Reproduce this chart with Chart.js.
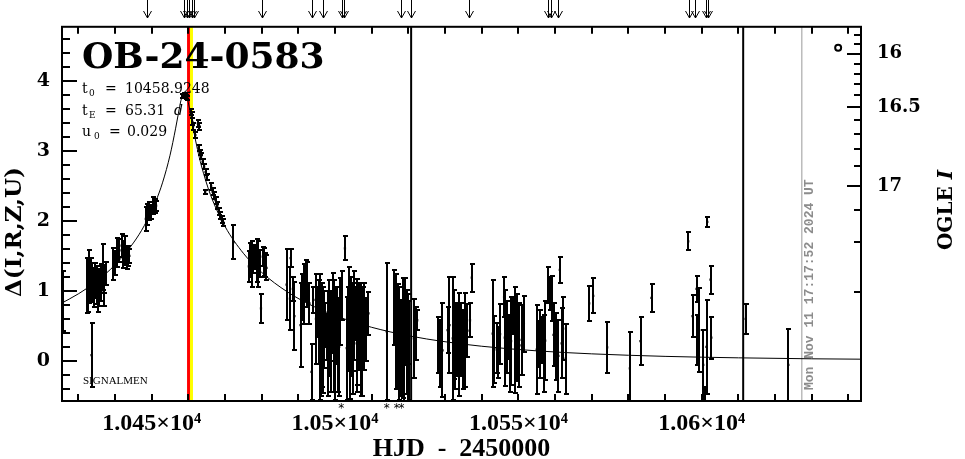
<!DOCTYPE html>
<html>
<head>
<meta charset="utf-8">
<script src="https://cdn.jsdelivr.net/npm/chart.js@4.4.1/dist/chart.umd.min.js"></script>
<style>
html,body{margin:0;padding:0;background:#ffffff;overflow:hidden;}
canvas{display:block;}
</style>
</head>
<body>
<canvas id="lc" width="965" height="459"></canvas>
<script>
// ---------------- data ----------------
// observation epochs (HJD-2450000)
const obsT = [
  10425.8, 10432.4, 10433.0, 10433.4, 10433.6, 10433.8, 10434.3, 10435.0, 10435.7, 10436.2, 10436.6, 10437.1, 10437.5,
  10439.5, 10440.0, 10440.6, 10441.2, 10441.8, 10442.3, 10442.7, 10443.2, 10443.6, 10443.9,
  10448.4, 10448.8, 10449.3, 10449.8, 10450.4, 10450.9, 10451.2,
  10458.4, 10458.7, 10459.0, 10459.3, 10459.7, 10460.6, 10460.9, 10461.1, 10461.3, 10461.9, 10462.6, 10462.8, 10463.0, 10463.2, 10463.5, 10463.9, 10464.3, 10464.6, 10464.7, 10465.0, 10466.2, 10466.6, 10467.0, 10467.4, 10467.9, 10468.3, 10468.7, 10469.1, 10469.5,
  10472.3,
  10476.5, 10476.8, 10477.3, 10477.7, 10478.2, 10478.6, 10478.9, 10479.1, 10479.5, 10479.8, 10480.3, 10480.6, 10480.9, 10481.3,
  10486.8, 10487.7, 10487.9, 10488.5, 10488.9, 10490.6, 10491.0, 10491.5, 10492.1, 10492.4, 10493.0, 10493.6, 10494.1, 10494.8, 10495.2, 10495.9, 10496.4, 10496.8, 10497.3, 10497.7, 10498.4, 10498.8, 10499.4, 10500.0, 10500.5, 10500.9, 10501.4, 10501.8, 10502.7, 10503.2, 10503.9, 10504.3, 10504.8, 10505.2, 10505.7, 10506.1, 10506.6, 10507.1, 10507.5, 10507.9, 10509.1,
  10514.1, 10516.2, 10516.6, 10517.1, 10517.5, 10518.0, 10518.4, 10519.1, 10519.5, 10520.1, 10521.5, 10522.0, 10522.4,
  10528.2, 10528.6, 10529.3, 10530.7, 10531.2, 10532.1, 10532.5, 10533.2, 10533.8, 10534.3, 10534.8, 10535.4, 10536.1, 10536.8, 10537.3,
  10543.0, 10543.4, 10544.1, 10544.5, 10545.0, 10546.1, 10546.3, 10547.0, 10547.5, 10548.0, 10548.6, 10549.2, 10549.7, 10550.3, 10550.9, 10551.5,
  10555.0, 10555.4, 10555.9, 10556.4, 10556.8, 10557.3, 10558.2, 10558.6, 10559.1, 10559.6, 10560.3, 10560.9, 10561.3, 10562.2, 10562.9,
  10569.3, 10570.4,
  10574.2, 10580.4, 10583.3, 10586.3, 10596.3, 10597.5, 10598.6, 10598.8, 10599.3, 10600.4, 10600.9, 10601.3, 10601.5, 10602.4, 10602.6, 10612.0, 10623.6,
  // denser parts of the forest
  10432.7, 10434.6, 10435.4, 10436.9,
  10495.5, 10496.1, 10497.0, 10498.1, 10499.0, 10499.7, 10500.2, 10501.1, 10503.5, 10504.0, 10505.0, 10505.9, 10506.9, 10507.3, 10508.4,
  10516.9, 10518.7, 10519.8, 10532.8, 10535.0, 10547.8, 10549.5, 10557.0, 10561.8
];
// magnification in magnitudes
const obsD = [
  0.86, 1.08, 1.20, 1.17, 0.08, 1.12, 1.05, 1.08, 1.05, 1.12, 1.34, 1.17, 1.25,
  1.38, 1.40, 1.55, 1.58, 1.65, 1.52, 1.58, 1.47, 1.50, 1.50,
  2.03, 2.09, 2.14, 2.13, 2.22, 2.22, 2.22,
  3.79, 3.81, 3.80, 3.78, 3.76, 3.56, 3.52, 3.42, 3.36, 3.23, 3.40, 3.05, 3.36, 2.98, 2.93, 2.85, 2.78, 2.42, 2.70, 2.63, 2.50, 2.42, 2.36, 2.30, 2.22, 2.14, 2.08, 2.02, 1.98,
  1.70,
  1.35, 1.44, 1.39, 1.44, 1.49, 1.44, 1.30, 1.51, 1.39, 0.75, 1.49, 1.42, 1.37, 1.33,
  1.09, 0.89, 1.47, 1.03, 0.64, 0.51, 0.91, 0.96, 1.15, 1.09, 0.82, -0.16, 0.87, 0.60, 0.70, 0.34, 0.37, 0.30, 0.51, 0.34, 0.47, 0.03, 0.68, 0.15, 0.51, 0.03, 0.70, 0.93, 1.61, 0.18, 0.96, 0.49, 0.32, 0.65, 0.68, 0.41, 0.49, 0.30, 0.58, 0.49, 0.68,
  0.42, 0.76, 0.42, 0.46, 0.25, 0.18, 0.32, 0.56, 0.27, 0.15, 0.32, 0.39, 0.58,
  0.22, 0.10, 0.15, 0.44, 0.51, 0.32, 0.38, 0.30, 0.23, 0.30, 0.33, 0.30, 0.43, 0.58, 1.19,
  0.39, 0.16, 0.18, 0.12, 0.38, 0.91, 0.33, 0.34, 0.34, 0.28, 0.64, 0.30, 0.14, 0.22, 0.30, 0.53,
  0.16, 0.24, 0.24, 0.30, 0.34, 0.29, 1.08, 0.96, 0.89, 0.37, 0.20, 0.07, 1.30, 0.46, 0.03,
  0.82, 0.93,
  0.19, -0.11, 0.28, 0.90, 1.71, 0.64, 1.03, 0.30, 0.44, -0.06, -0.70, 0.20, 1.99, 1.16, 0.33, 0.60, -0.06,
  1.00, 1.15, 0.95, 1.00,
  0.55, 0.20, 0.45, 0.25, 0.50, 0.35, 0.60, 0.20, 0.45, 0.20, 0.45, 0.25, 0.55, 0.20, 0.45,
  0.30, 0.10, 0.45, 0.20, 0.15, 0.10, 0.45, 0.10, 0.25
];
// error bar half-lengths
const obsE = [
  0.43, 0.39, 0.38, 0.30, 0.46, 0.28, 0.28, 0.27, 0.27, 0.26, 0.33, 0.20, 0.17,
  0.23, 0.17, 0.21, 0.17, 0.17, 0.19, 0.21, 0.15, 0.15, 0.10,
  0.17, 0.15, 0.13, 0.10, 0.12, 0.10, 0.07,
  0.03, 0.03, 0.03, 0.03, 0.03, 0.04, 0.04, 0.05, 0.05, 0.04, 0.05, 0.04, 0.05, 0.04, 0.04, 0.04, 0.04, 0.03, 0.04, 0.04, 0.05, 0.05, 0.05, 0.05, 0.05, 0.05, 0.05, 0.05, 0.05,
  0.25,
  0.22, 0.24, 0.33, 0.19, 0.17, 0.31, 0.25, 0.21, 0.19, 0.21, 0.14, 0.20, 0.17, 0.18,
  0.51, 0.45, 0.13, 0.17, 0.49, 0.60, 0.33, 0.43, 0.29, 0.32, 0.29, 0.40, 0.19, 0.64, 0.36, 0.90, 0.74, 0.76, 0.31, 0.33, 0.69, 0.48, 0.57, 0.71, 0.55, 0.48, 0.48, 0.35, 0.17, 0.74, 0.38, 0.71, 0.79, 0.64, 0.38, 0.76, 0.62, 0.81, 0.48, 0.62, 0.31,
  0.98, 0.54, 0.82, 0.64, 0.81, 0.69, 0.86, 0.62, 0.74, 0.71, 0.56, 0.38, 0.14,
  0.40, 0.48, 0.67, 0.33, 0.69, 0.88, 0.64, 0.52, 0.74, 0.52, 0.40, 0.67, 0.38, 0.24, 0.20,
  0.76, 0.48, 0.36, 0.36, 0.43, 0.29, 0.69, 0.52, 0.31, 0.63, 0.26, 0.76, 0.43, 0.60, 0.50, 0.40,
  0.64, 0.33, 0.48, 0.33, 0.24, 0.57, 0.26, 0.24, 0.32, 0.45, 0.48, 0.52, 0.18, 0.45, 0.50,
  0.25, 0.25,
  0.37, 0.52, 0.34, 0.20, 0.13, 0.30, 0.19, 0.36, 0.60, 0.50, 0.33, 0.67, 0.07, 0.20, 0.30, 0.21, 0.52,
  0.30, 0.25, 0.25, 0.22,
  0.60, 0.70, 0.55, 0.75, 0.50, 0.80, 0.45, 0.70, 0.60, 0.75, 0.60, 0.70, 0.50, 0.70, 0.45,
  0.70, 0.75, 0.50, 0.60, 0.55, 0.55, 0.50, 0.55, 0.50
];
// model light curve samples
const modelT = [10425, 10430, 10435, 10440, 10445, 10448, 10451, 10453, 10455, 10456.5, 10457.3, 10458, 10458.92, 10459.5, 10460, 10461.5, 10462.5, 10463.5, 10466, 10470, 10475, 10480, 10487, 10495, 10505, 10515, 10525, 10540, 10555, 10570, 10590, 10610, 10630, 10645];
const modelD = [0.812, 0.958, 1.140, 1.373, 1.687, 1.937, 2.267, 2.557, 2.942, 3.320, 3.545, 3.730, 3.844, 3.796, 3.693, 3.277, 3.022, 2.803, 2.381, 1.923, 1.539, 1.265, 0.986, 0.757, 0.556, 0.414, 0.312, 0.208, 0.142, 0.099, 0.063, 0.042, 0.028, 0.022];
// odd open symbol at upper right
const openT = [10637.2];
const openD = [4.48];

// ticks / labels
const xTickDays = [10430, 10440, 10450, 10460, 10470, 10480, 10490, 10500, 10510, 10520, 10530, 10540, 10550, 10560, 10570, 10580, 10590, 10600, 10610, 10620, 10630, 10640];
const xLabelDays = [10450, 10500, 10550, 10600];
const xLabelText = ['1.045×10⁴', '1.05×10⁴', '1.055×10⁴', '1.06×10⁴'];
const yMajor = [0, 1, 2, 3, 4];
const rightMinorMags = [15.8, 15.9, 16.0, 16.1, 16.2, 16.3, 16.4, 16.5, 16.6, 16.7, 16.8, 16.9, 17.0, 17.1, 17.2, 17.3];
const rightMajorMags = [16, 16.5, 17];
const rightLabelText = ['16', '16.5', '17'];
const baseMag = 17.37, blendFs = 0.045;

// annotation epochs
const arrowDays = [10448.6, 10458.8, 10459.5, 10460.25, 10460.9, 10461.5, 10480.0, 10493.8, 10496.8, 10502.0, 10502.4, 10517.9, 10520.8, 10536.6, 10558.1, 10558.9, 10560.8, 10596.6, 10598.1, 10601.1, 10601.6];
const starDays = [10501.7, 10514.1, 10516.8, 10518.1];
const redDay = 10460.05, yellowDay = 10460.85;
const blackDays = [10520.75, 10611.3];
const grayDay = 10627.3;

const xMin = 10425.54, xMax = 10643.43, yMin = -0.576, yMax = 4.781;

const magToDelta = m => 2.5 * Math.log10(1 + (Math.pow(10, -0.4 * (m - baseMag)) - 1) / blendFs);
const leftTicks = [];
for (let k = -2; k <= 23; k++) leftTicks.push(Math.round(k * 2) / 10);
const isMajor = v => Math.abs(v - Math.round(v)) < 1e-6 && yMajor.includes(Math.round(v));

const decor = {
  id: 'decor',
  beforeDatasetsDraw(chart) {
    const {ctx, chartArea: a, scales: {x, y}} = chart;
    ctx.save();
    ctx.beginPath(); ctx.rect(a.left, a.top, a.right - a.left, a.bottom - a.top); ctx.clip();
    const vline = (d, color, w) => {
      const px = x.getPixelForValue(d);
      ctx.strokeStyle = color; ctx.lineWidth = w;
      ctx.beginPath(); ctx.moveTo(px, a.top); ctx.lineTo(px, a.bottom); ctx.stroke();
    };
    vline(redDay, '#ff0000', 3);
    vline(yellowDay, '#ffff00', 3);
    blackDays.forEach(d => vline(d, '#000000', 2));
    vline(grayDay, '#999999', 1);
    // date stamp
    ctx.save();
    const gx = x.getPixelForValue(grayDay);
    ctx.translate(gx + 11, a.bottom - 11);
    ctx.rotate(-Math.PI / 2);
    ctx.fillStyle = '#8c8c8c';
    ctx.font = 'bold 13px "Liberation Mono"';
    ctx.textAlign = 'left'; ctx.textBaseline = 'alphabetic';
    ctx.fillText('Mon Nov 11 17:17:52 2024 UT', 0, 0);
    ctx.restore();
    // error bars
    ctx.strokeStyle = '#000000'; ctx.lineWidth = 2; ctx.lineCap = 'butt';
    for (let i = 0; i < obsT.length; i++) {
      const px = Math.round(x.getPixelForValue(obsT[i]));
      const y1 = Math.round(y.getPixelForValue(obsD[i] + obsE[i]));
      const y2 = Math.round(y.getPixelForValue(obsD[i] - obsE[i]));
      ctx.beginPath();
      ctx.moveTo(px, y1); ctx.lineTo(px, y2);
      ctx.moveTo(px - 2, y1); ctx.lineTo(px + 3, y1);
      ctx.moveTo(px - 2, y2); ctx.lineTo(px + 3, y2);
      ctx.stroke();
    }
    ctx.restore();
  },
  afterDraw(chart) {
    const {ctx, chartArea: a, scales: {x, y}} = chart;
    ctx.save();
    ctx.strokeStyle = '#000'; ctx.fillStyle = '#000';
    // frame
    ctx.lineWidth = 2;
    ctx.strokeRect(a.left, a.top, a.right - a.left, a.bottom - a.top);
    // ticks (inward)
    ctx.lineWidth = 2;
    ctx.beginPath();
    leftTicks.forEach(v => {
      const py = Math.round(y.getPixelForValue(v));
      ctx.moveTo(a.left, py); ctx.lineTo(a.left + (isMajor(v) ? 15 : 8), py);
    });
    xTickDays.forEach(d => {
      const px = Math.round(x.getPixelForValue(d));
      ctx.moveTo(px, a.bottom); ctx.lineTo(px, a.bottom - 7);
      ctx.moveTo(px, a.top); ctx.lineTo(px, a.top + 7);
    });
    rightMinorMags.forEach(m => {
      const py = Math.round(y.getPixelForValue(magToDelta(m)));
      const major = rightMajorMags.some(M => Math.abs(M - m) < 1e-6);
      ctx.moveTo(a.right, py); ctx.lineTo(a.right - (major ? 14 : 7), py);
    });
    ctx.stroke();
    // arrows above the frame
    ctx.lineWidth = 1;
    ctx.beginPath();
    arrowDays.forEach(d => {
      const px = Math.round(x.getPixelForValue(d)) + 0.5;
      ctx.moveTo(px, 0); ctx.lineTo(px, 18);
      ctx.moveTo(px - 4, 11); ctx.lineTo(px, 18); ctx.lineTo(px + 4, 11);
    });
    ctx.stroke();
    // asterisks below the frame
    ctx.font = '12px "DejaVu Sans"';
    ctx.textAlign = 'center'; ctx.textBaseline = 'middle';
    starDays.forEach(d => ctx.fillText('*', x.getPixelForValue(d), a.bottom + 8));
    // event name
    ctx.textAlign = 'left'; ctx.textBaseline = 'alphabetic';
    ctx.font = 'bold 36px "DejaVu Serif"';
    ctx.fillText('OB-24-0583', 82, 68);
    // parameters
    const param = (sym, sub, val, unit, base) => {
      ctx.font = '14px "DejaVu Serif"';
      ctx.fillText(sym, 82, base);
      ctx.font = '9px "DejaVu Serif"';
      ctx.fillText(sub, sym === 'u' ? 94 : 89, base + 3);
      ctx.font = '14px "DejaVu Serif"';
      ctx.fillText('=', sym === 'u' ? 109 : 105, base);
      ctx.fillText(val, sym === 'u' ? 127 : 125, base);
      if (unit) { ctx.font = 'italic 14px "DejaVu Serif"'; ctx.fillText(unit, 174, base); }
    };
    param('t', '0', '10458.9248', '', 93);
    param('t', 'E', '65.31', 'd', 115);
    param('u', '0', '0.029', '', 136);
    ctx.font = '11px "Liberation Serif"';
    ctx.fillText('SIGNALMEN', 83, 384);
    // axis titles
    ctx.font = 'bold 26px "Liberation Serif"';
    ctx.textAlign = 'center';
    ctx.fillText('HJD  -  2450000', (a.left + a.right) / 2, 456);
    ctx.save();
    ctx.translate(21, 232); ctx.rotate(-Math.PI / 2);
    ctx.font = 'bold 23px "DejaVu Serif"';
    ctx.fillText('Δ(I,R,Z,U)', 0, 0);
    ctx.restore();
    ctx.save();
    ctx.translate(952, 210); ctx.rotate(-Math.PI / 2);
    ctx.textAlign = 'left';
    ctx.font = 'bold 20px "DejaVu Serif"'; const w1 = ctx.measureText('OGLE ').width;
    ctx.font = 'italic bold 20px "DejaVu Serif"'; const w2 = ctx.measureText('I').width;
    const sx = -(w1 + w2) / 2;
    ctx.font = 'bold 20px "DejaVu Serif"'; ctx.fillText('OGLE ', sx, 0);
    ctx.font = 'italic bold 20px "DejaVu Serif"'; ctx.fillText('I', sx + w1, 0);
    ctx.restore();
    ctx.restore();
  }
};

new Chart(document.getElementById('lc'), {
  data: {
    datasets: [
      {
        type: 'line',
        data: modelT.map((t, i) => ({x: t, y: modelD[i]})),
        borderColor: '#000', borderWidth: 1, pointRadius: 0,
        cubicInterpolationMode: 'monotone', fill: false
      },
      {
        type: 'scatter',
        data: obsT.map((t, i) => ({x: t, y: obsD[i]})),
        pointStyle: 'rect', pointRadius: 1.6, borderWidth: 0,
        backgroundColor: '#000'
      },
      {
        type: 'scatter',
        data: openT.map((t, i) => ({x: t, y: openD[i]})),
        pointStyle: 'circle', pointRadius: 3, borderWidth: 2,
        borderColor: '#000', backgroundColor: '#fff'
      }
    ]
  },
  options: {
    responsive: false, animation: false, devicePixelRatio: 1,
    layout: {padding: {top: 26, left: 0, right: 0, bottom: 0}},
    plugins: {legend: {display: false}, tooltip: {enabled: false}},
    scales: {
      x: {
        type: 'linear', position: 'bottom', min: xMin, max: xMax,
        grid: {display: false, drawTicks: false, tickLength: 0}, border: {display: false},
        afterBuildTicks: s => { s.ticks = xTickDays.map(v => ({value: v})); },
        afterFit: s => { s.height = 58; },
        ticks: {
          autoSkip: false, maxRotation: 0, padding: 8, color: '#000',
          font: {family: 'Liberation Serif', size: 24, weight: 'bold'},
          callback: v => { const k = xLabelDays.indexOf(v); return k >= 0 ? xLabelText[k] : ''; }
        }
      },
      y: {
        type: 'linear', position: 'left', min: yMin, max: yMax,
        grid: {display: false, drawTicks: false, tickLength: 0}, border: {display: false},
        afterBuildTicks: s => { s.ticks = leftTicks.map(v => ({value: v})); },
        afterFit: s => { s.width = 62; },
        ticks: {
          autoSkip: false, padding: 12, color: '#000',
          font: {family: 'DejaVu Serif', size: 19, weight: 'bold'},
          callback: v => isMajor(v) ? String(Math.round(v)) : ''
        }
      },
      y2: {
        type: 'linear', position: 'right', min: yMin, max: yMax,
        grid: {display: false, drawTicks: false, tickLength: 0}, border: {display: false},
        afterBuildTicks: s => { s.ticks = rightMajorMags.map(m => ({value: magToDelta(m)})); },
        afterFit: s => { s.width = 104; },
        ticks: {
          autoSkip: false, padding: 16, color: '#000',
          font: {family: 'DejaVu Serif', size: 18, weight: 'bold'},
          callback: (v, i) => rightLabelText[i]
        }
      }
    }
  },
  plugins: [decor]
});
</script>
</body>
</html>
